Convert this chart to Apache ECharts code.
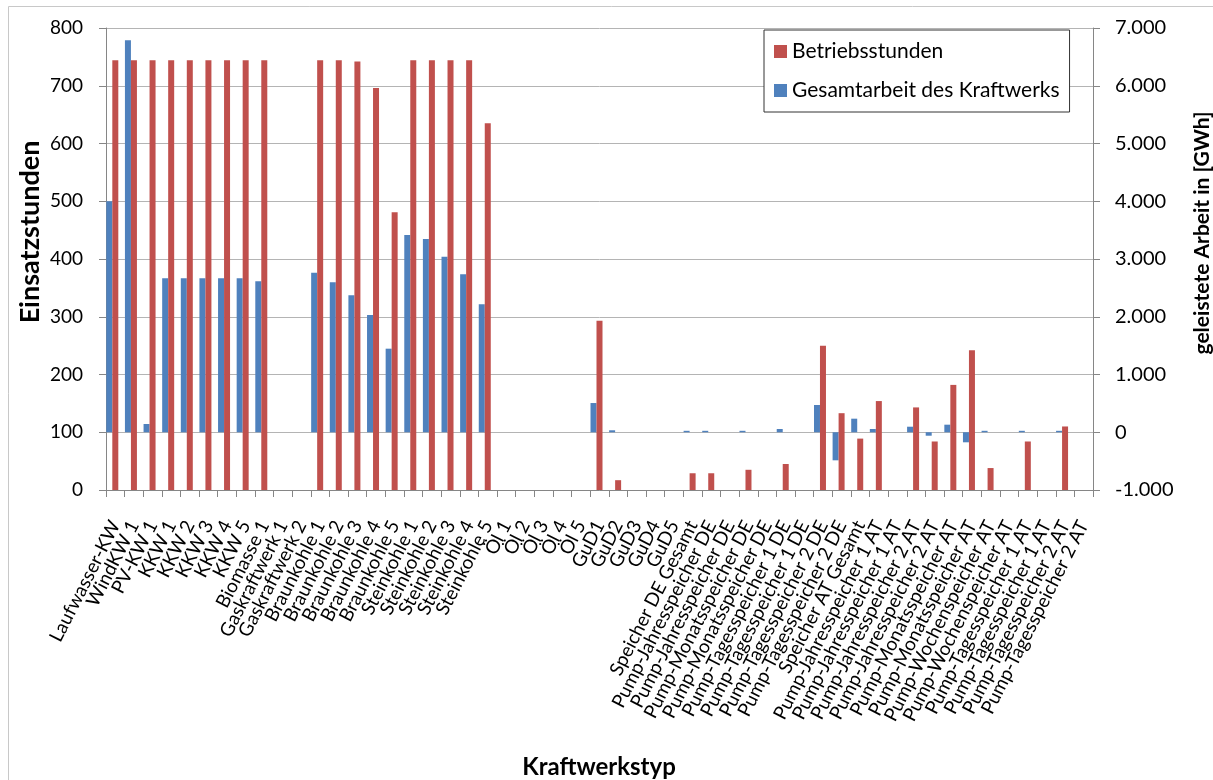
<!DOCTYPE html>
<html>
<head>
<meta charset="utf-8">
<script src="https://cdn.jsdelivr.net/npm/echarts@6/dist/echarts.min.js"></script>
<style>
  html, body { margin: 0; padding: 0; background: #fff; }
  #chart { width: 1213px; height: 780px; }
</style>
</head>
<body>
<div id="chart"></div>
<script>
// Kategorien (x-Achse)
const kraftwerke = [
  'Laufwasser-KW', 'WindKW 1', 'PV-KW 1', 'KKW 1', 'KKW 2', 'KKW 3', 'KKW 4', 'KKW 5',
  'Biomasse 1', 'Gaskraftwerk 1', 'Gaskraftwerk 2',
  'Braunkohle 1', 'Braunkohle 2', 'Braunkohle 3', 'Braunkohle 4', 'Braunkohle 5',
  'Steinkohle 1', 'Steinkohle 2', 'Steinkohle 3', 'Steinkohle 4', 'Steinkohle 5',
  'Öl 1', 'Öl 2', 'Öl 3', 'Öl 4', 'Öl 5',
  'GuD1', 'GuD2', 'GuD3', 'GuD4', 'GuD5',
  'Speicher DE Gesamt',
  'Pump-Jahresspeicher DE', 'Pump-Jahresspeicher DE',
  'Pump-Monatsspeicher DE', 'Pump-Monatsspeicher DE',
  'Pump-Tagesspeicher 1 DE', 'Pump-Tagesspeicher 1 DE',
  'Pump-Tagesspeicher 2 DE', 'Pump-Tagesspeicher 2 DE',
  'Speicher AT Gesamt',
  'Pump-Jahresspeicher 1 AT', 'Pump-Jahresspeicher 1 AT',
  'Pump-Jahresspeicher 2 AT', 'Pump-Jahresspeicher 2 AT',
  'Pump-Monatsspeicher AT', 'Pump-Monatsspeicher AT',
  'Pump-Wochenspeicher AT', 'Pump-Wochenspeicher AT',
  'Pump-Tagesspeicher 1 AT', 'Pump-Tagesspeicher 1 AT',
  'Pump-Tagesspeicher 2 AT', 'Pump-Tagesspeicher 2 AT'
];

// Betriebsstunden (linke Achse)
const betriebsstunden = [
  744, 744, 744, 744, 744, 744, 744, 744,
  744, '-', '-',
  744, 744, 742, 696, 481,
  744, 744, 744, 744, 635,
  '-', '-', '-', '-', '-',
  293, 17, '-', '-', '-',
  29,
  29, '-',
  35, '-',
  45, '-',
  250, 133,
  89,
  154, '-',
  143, 84,
  182, 242,
  38, '-',
  84, '-',
  110, '-'
];

// Gesamtarbeit in GWh (rechte Achse)
const gesamtarbeit = [
  4000, 6790, 143, 2666, 2666, 2666, 2666, 2666,
  2614, '-', '-',
  2763, 2597, 2371, 2030, 1447,
  3416, 3346, 3040, 2735, 2216,
  '-', '-', '-', '-', '-',
  506, 34, '-', '-', '-',
  25,
  25, '-',
  25, '-',
  56, '-',
  472, -486,
  235,
  56, '-',
  96, -60,
  131, -174,
  25, '-',
  25, '-',
  25, '-'
];

// leere dritte Reihe wie im Original (hält den Platz rechts neben den roten Balken frei)
const leer = kraftwerke.map(() => '-');

const fontName = 'Lato';
const rot = 'Gesamtarbeit des Kraftwerks';

function deFormat(v) {
  const neg = v < 0;
  let s = String(Math.abs(v)).replace(/\B(?=(\d{3})+(?!\d))/g, '.');
  return (neg ? '-' : '') + s;
}

var chart = echarts.init(document.getElementById('chart'));
var option = {
  animation: false,
  backgroundColor: '#fff',
  textStyle: { fontFamily: fontName, color: '#000' },
  grid: { left: 106, right: 120, top: 28, bottom: 290 },
  legend: {
    orient: 'vertical',
    left: 764,
    top: 30,
    padding: [11, 10, 11, 10],
    itemWidth: 13,
    itemHeight: 13,
    itemGap: 18,
    backgroundColor: '#fff',
    borderColor: '#333',
    borderWidth: 1,
    data: ['Betriebsstunden', rot],
    textStyle: { fontSize: 21, fontFamily: fontName, color: '#000', lineHeight: 21 },
    icon: 'rect'
  },
  xAxis: {
    type: 'category',
    data: kraftwerke,
    axisLine: { onZero: false, lineStyle: { color: '#868686' } },
    axisTick: { show: true, length: 7, lineStyle: { color: '#868686' } },
    axisLabel: {
      interval: 0, rotate: 63, margin: 32, fontSize: 19, fontFamily: fontName,
      color: '#000'
    }
  },
  yAxis: [
    {
      type: 'value', min: 0, max: 800, interval: 100,
      axisLine: { show: true, lineStyle: { color: '#868686' } },
      axisTick: { show: true, length: 7, lineStyle: { color: '#868686' } },
      axisLabel: { fontSize: 19, margin: 23, color: '#000', fontFamily: fontName },
      splitLine: { lineStyle: { color: '#b4b4b4', width: 1 } }
    },
    {
      type: 'value', min: -1000, max: 7000, interval: 1000,
      axisLine: { show: true, lineStyle: { color: '#868686' } },
      axisTick: { show: true, length: 7, lineStyle: { color: '#868686' } },
      axisLabel: { fontSize: 20, margin: 22, color: '#000', fontFamily: fontName, formatter: deFormat },
      splitLine: { show: false }
    }
  ],
  series: [
    {
      name: rot, type: 'bar', yAxisIndex: 1, data: gesamtarbeit,
      barWidth: 6, barGap: '0%',
      itemStyle: { color: '#4F81BD' }
    },
    {
      name: 'Betriebsstunden', type: 'bar', yAxisIndex: 0, data: betriebsstunden,
      barWidth: 6, barGap: '0%',
      itemStyle: { color: '#C0504D' }
    },
    {
      name: 'leer', type: 'bar', yAxisIndex: 0, data: leer,
      barWidth: 6, barGap: '0%', silent: true
    }
  ],
  graphic: [
    {
      type: 'rect', silent: true, z: -10,
      shape: { x: 8.5, y: 6.5, width: 1300, height: 900 },
      style: { fill: 'none', stroke: '#c8c8c8', lineWidth: 1 }
    },
    {
      type: 'text', x: 30, y: 232, rotation: Math.PI / 2,
      style: { text: 'Einsatzstunden', font: 'bold 27px Lato', fill: '#000', align: 'center', verticalAlign: 'middle' }
    },
    {
      type: 'text', x: 1202, y: 233, rotation: Math.PI / 2,
      style: { text: 'geleistete Arbeit in [GWh]', font: 'bold 21px Lato', fill: '#000', align: 'center', verticalAlign: 'middle' }
    },
    {
      type: 'text', x: 599, y: 767,
      style: { text: 'Kraftwerkstyp', font: 'bold 24px Lato', fill: '#000', align: 'center', verticalAlign: 'middle' }
    }
  ]
};
chart.setOption(option);
</script>
</body>
</html>
